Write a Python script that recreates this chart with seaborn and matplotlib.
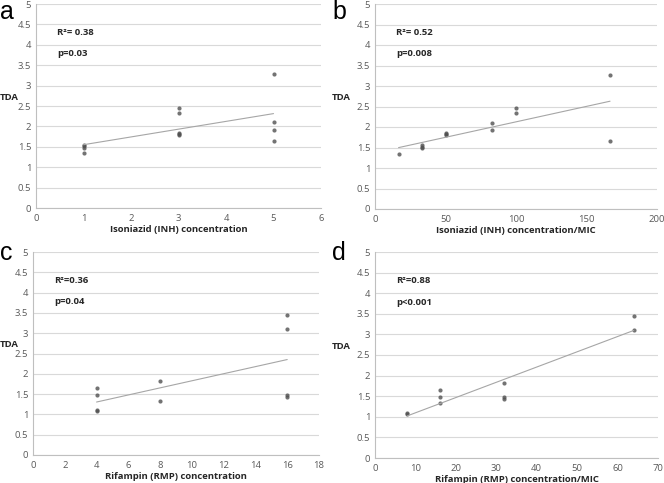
import matplotlib
matplotlib.use("Agg")
import numpy as np
import pandas as pd
import matplotlib.pyplot as plt
import seaborn as sns

# Panel a: INH concentration vs TDA
inh_conc = [1, 1, 1, 1, 3, 3, 3, 3, 3, 5, 5, 5, 5]
inh_tda = [1.55, 1.52, 1.48, 1.35, 2.46, 2.34, 1.85, 1.82, 1.80, 3.28, 2.10, 1.92, 1.65]

# Panel b: INH concentration/MIC vs TDA
inh_mic = [33.3, 33.3, 33.3, 16.7, 100, 100, 50, 50, 50, 166.7, 83.3, 83.3, 166.7]
inh_mic_tda = [1.55, 1.52, 1.48, 1.35, 2.46, 2.34, 1.85, 1.82, 1.80, 3.28, 2.10, 1.92, 1.65]

# Panel c: RMP concentration vs TDA
rmp_conc = [4, 4, 4, 4, 8, 8, 16, 16, 16, 16]
rmp_tda = [1.65, 1.48, 1.10, 1.08, 1.83, 1.34, 3.45, 3.10, 1.47, 1.43]

# Panel d: RMP concentration/MIC vs TDA
rmp_mic = [16, 16, 8, 8, 32, 16, 64, 64, 32, 32]
rmp_mic_tda = [1.65, 1.48, 1.10, 1.08, 1.83, 1.34, 3.45, 3.10, 1.47, 1.43]

panels = [
    dict(x=inh_conc, y=inh_tda, letter="a", xlabel="Isoniazid (INH) concentration",
         r2="R\u00b2= 0.38", p="p=0.03", xmax=6, xstep=1,
         rect=[36 / 664, 1 - 208 / 483, 285 / 664, 204 / 483], lx=2),
    dict(x=inh_mic, y=inh_mic_tda, letter="b", xlabel="Isoniazid (INH) concentration/MIC",
         r2="R\u00b2= 0.52", p="p=0.008", xmax=200, xstep=50,
         rect=[375 / 664, 1 - 209 / 483, 282 / 664, 205 / 483], lx=334),
    dict(x=rmp_conc, y=rmp_tda, letter="c", xlabel="Rifampin (RMP) concentration",
         r2="R\u00b2=0.36", p="p=0.04", xmax=18, xstep=2,
         rect=[33 / 664, 1 - 455 / 483, 286 / 664, 203 / 483], lx=2),
    dict(x=rmp_mic, y=rmp_mic_tda, letter="d", xlabel="Rifampin (RMP) concentration/MIC",
         r2="R\u00b2=0.88", p="p<0.001", xmax=70, xstep=10,
         rect=[375 / 664, 1 - 458 / 483, 283 / 664, 206 / 483], lx=334),
]

sns.set_style("white")
plt.rcParams['font.family'] = ['Open Sans', 'DejaVu Sans']

fig = plt.figure(figsize=(6.64, 4.83), dpi=100)

for i, pnl in enumerate(panels):
    ax = fig.add_axes(pnl["rect"])
    df = pd.DataFrame({"x": pnl["x"], "y": pnl["y"]})

    # horizontal gridlines like Excel
    ax.set_ylim(0, 5)
    ax.set_xlim(0, pnl["xmax"])
    ax.set_yticks(np.arange(0, 5.01, 0.5))
    ax.set_yticklabels(["0", "0.5", "1", "1.5", "2", "2.5", "3", "3.5", "4", "4.5", "5"])
    ax.set_xticks(np.arange(0, pnl["xmax"] + 0.01, pnl["xstep"]))
    ax.grid(axis="y", color="#d9d9d9", linewidth=0.8)
    ax.set_axisbelow(True)

    sns.regplot(
        ax=ax, data=df, x="x", y="y", ci=None, truncate=True,
        scatter_kws=dict(marker="D", s=9, color="#505050", linewidths=0),
        line_kws=dict(color="#a6a6a6", linewidth=0.8),
    )

    for side in ["top", "right"]:
        ax.spines[side].set_visible(False)
    for side in ["left", "bottom"]:
        ax.spines[side].set_color("#bfbfbf")
        ax.spines[side].set_linewidth(0.8)

    ax.tick_params(axis="both", labelsize=6.8, colors="#595959", length=3,
                   width=0.6, pad=1)
    ax.tick_params(axis="y", length=2.5)
    ax.tick_params(axis="x", color="#bfbfbf")
    ax.tick_params(axis="y", color="#bfbfbf")

    ax.set_xlabel(pnl["xlabel"], fontsize=6.8, fontweight="bold", color="#262626", labelpad=2)
    ax.set_ylabel("TDA", fontsize=6.8, fontweight="bold", color="#262626", rotation=0)
    bbox = pnl["rect"]
    ax.yaxis.set_label_coords((pnl["lx"] + 7 - bbox[0] * 664) / (bbox[2] * 664), 0.52)

    ax.text(0.075, 0.862, pnl["r2"], transform=ax.transAxes, fontsize=6.8,
            fontweight="bold", color="#262626", va="center")
    ax.text(0.075, 0.757, pnl["p"], transform=ax.transAxes, fontsize=6.8,
            fontweight="bold", color="#262626", va="center")

    top_px = 0 if i < 2 else 241
    fig.text((pnl["lx"] - 2) / 664, 1 - top_px / 483, pnl["letter"], fontsize=18,
             family="Liberation Sans", color="black", ha="left", va="top")

fig.savefig("out.png", dpi=100)
